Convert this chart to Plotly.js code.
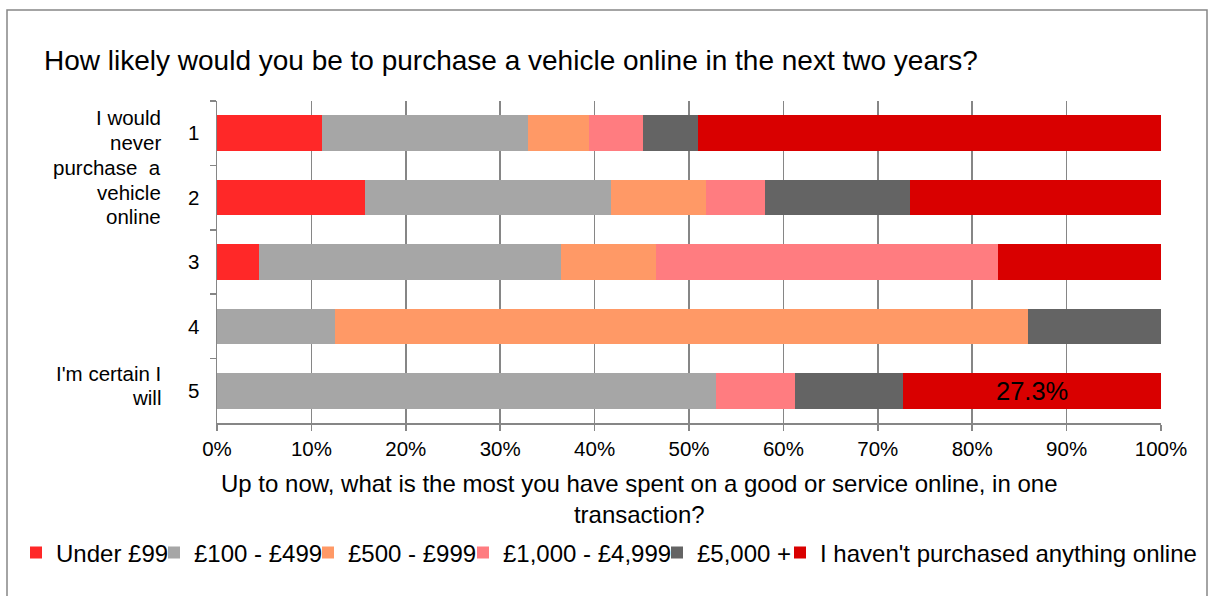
<!DOCTYPE html>
<html>
<head>
<meta charset="utf-8">
<script src="https://cdn.plot.ly/plotly-3.0.1.min.js"></script>
<style>
  html, body { margin: 0; padding: 0; background: #fff; }
  #chart { width: 1210px; height: 596px; }
</style>
</head>
<body>
<div id="chart"></div>
<script>
// ---- data (percent of respondents in each likelihood group) ----
const likelihood = ['1', '2', '3', '4', '5'];
const seriesNames = ['Under £99', '£100 - £499', '£500 - £999', '£1,000 - £4,999', '£5,000 +', "I haven't purchased anything online"];
const under99    = [11.1, 15.7, 4.5, 0, 0];
const from100    = [21.8, 26.0, 31.9, 12.5, 52.9];
const from500    = [6.5, 10.1, 10.1, 73.4, 0];
const from1000   = [5.7, 6.3, 36.2, 0, 8.3];
const from5000   = [5.8, 15.3, 0, 14.1, 11.5];
const noneOnline = [49.1, 26.6, 17.3, 0, 27.3];
const labelledPoint = 4; // only the last bar segment carries a data label
const xTickVals = [0, 10, 20, 30, 40, 50, 60, 70, 80, 90, 100];
const xTickText = xTickVals.map(v => v + '%');
const topLabelLines = ['I would', 'never', 'purchase  a', 'vehicle', 'online'];
const bottomLabelLines = ["I'm certain I", 'will'];

const seriesValues = [under99, from100, from500, from1000, from5000, noneOnline];
const colors = ['#FF2828', '#A6A6A6', '#FF9966', '#FF7C80', '#646464', '#D90000'];
const legendWidths = [93, 109, 110, 149, null, null];
const legendIds = ['legend', 'legend', 'legend', 'legend', 'legend', 'legend2'];

const FONT = 'Liberation Sans, Arial, sans-serif';
const GRID = '#868686';

// plot area in pixels
const L = 217, R = 1161, T = 101, B = 423;
const W = 1210, H = 596;
const px2x = p => (p - L) / (R - L);
const px2y = p => (B - p) / (B - T);

const traces = seriesValues.map((vals, i) => {
  const t = {
    type: 'bar',
    orientation: 'h',
    name: seriesNames[i],
    y: likelihood,
    x: vals,
    marker: { color: colors[i] },
    legend: legendIds[i],
    hoverinfo: 'name+x'
  };
  if (legendWidths[i]) t.legendwidth = legendWidths[i];
  if (i === seriesValues.length - 1) {
    t.text = vals.map((v, j) => j === labelledPoint ? v.toFixed(1) + '%' : '');
    t.textposition = 'inside';
    t.insidetextanchor = 'middle';
    t.constraintext = 'none';
    t.textfont = { family: FONT, size: 25.5, color: '#000' };
  }
  return t;
});

const sideLabel = (txt, yPx) => ({
  text: txt,
  xref: 'paper', yref: 'paper',
  x: px2x(163), y: px2y(yPx),
  xanchor: 'right', yanchor: 'middle',
  showarrow: false, align: 'right',
  font: { family: FONT, size: 20.5, color: '#000' }
});

const annotations = [
  {
    text: 'Up to now, what is the most you have spent on a good or service online, in one<br>transaction?',
    xref: 'paper', yref: 'paper',
    x: px2x(639), y: px2y(499),
    xanchor: 'center', yanchor: 'middle',
    showarrow: false, align: 'center',
    font: { family: FONT, size: 24, color: '#000' }
  }
];
const topLineY = [117, 142, 167, 192, 216];
topLabelLines.forEach((s, i) => annotations.push(sideLabel(s, topLineY[i])));
const bottomLineY = [373, 397];
bottomLabelLines.forEach((s, i) => annotations.push(sideLabel(s, bottomLineY[i])));

const layout = {
  width: W, height: H,
  paper_bgcolor: '#fff', plot_bgcolor: '#fff',
  margin: { l: L, r: W - R, t: T, b: H - B, pad: 0, autoexpand: false },
  barmode: 'stack',
  bargap: 0.45,
  font: { family: FONT, color: '#000' },
  title: {
    text: 'How likely would you be to purchase a vehicle online in the next two years?',
    font: { family: FONT, size: 28, color: '#000' },
    x: 44 / W, xanchor: 'left', xref: 'container',
    y: 1 - 60 / H, yanchor: 'middle', yref: 'container'
  },
  xaxis: {
    range: [0, 100],
    tickvals: xTickVals,
    ticktext: xTickText,
    showgrid: true, gridcolor: GRID, gridwidth: 1.5,
    zeroline: false,
    showline: true, linecolor: GRID, linewidth: 2,
    ticks: 'outside', ticklen: 6, tickcolor: GRID, tickwidth: 1.5,
    tickfont: { family: FONT, size: 20.5, color: '#000' },
    ticklabelstandoff: 0,
    fixedrange: true
  },
  yaxis: {
    type: 'category',
    categoryorder: 'array', categoryarray: likelihood,
    autorange: 'reversed',
    showgrid: false, zeroline: false,
    showline: true, linecolor: GRID, linewidth: 1.5,
    ticks: 'outside', tickson: 'boundaries', ticklen: 6, tickcolor: GRID, tickwidth: 1.5,
    tickfont: { family: FONT, size: 20.5, color: '#000' },
    ticklabelstandoff: 12,
    fixedrange: true
  },
  legend: {
    orientation: 'h',
    x: px2x(16), xanchor: 'left',
    y: px2y(553), yanchor: 'middle',
    font: { family: FONT, size: 24, color: '#000' },
    itemwidth: 30,
    bgcolor: 'rgba(0,0,0,0)',
    traceorder: 'normal'
  },
  legend2: {
    orientation: 'h',
    x: px2x(780), xanchor: 'left',
    y: px2y(553), yanchor: 'middle',
    font: { family: FONT, size: 24, color: '#000' },
    itemwidth: 30,
    bgcolor: 'rgba(0,0,0,0)'
  },
  annotations: annotations,
  shapes: [
    {
      type: 'rect', xref: 'paper', yref: 'paper', layer: 'below',
      x0: px2x(7), x1: px2x(1207), y0: px2y(10), y1: px2y(610),
      line: { color: GRID, width: 1.5 }, fillcolor: 'rgba(0,0,0,0)'
    }
  ],
  showlegend: true
};

Plotly.newPlot('chart', traces, layout, { displayModeBar: false, staticPlot: true });
</script>
</body>
</html>
